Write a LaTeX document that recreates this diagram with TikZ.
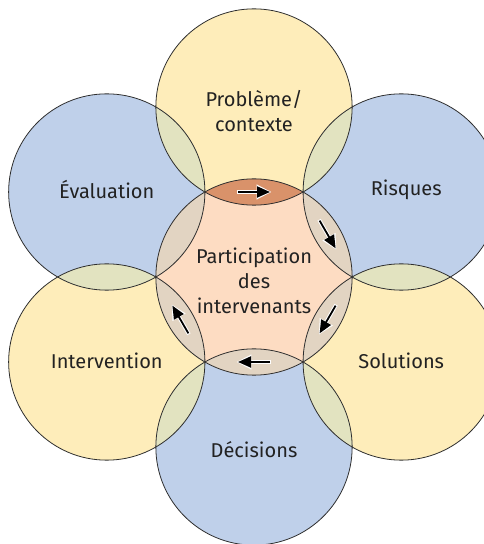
\documentclass[tikz,border=0pt]{standalone}
\usepackage{fontspec}
\setmainfont{Fira Sans}
\usetikzlibrary{calc,arrows.meta}
\definecolor{yellowC}{HTML}{FEEDBA}
\definecolor{blueC}{HTML}{BFD0EA}
\definecolor{greenC}{HTML}{E2E3C0}
\definecolor{peachC}{HTML}{FDDCC2}
\definecolor{tanC}{HTML}{E2D4C2}
\definecolor{rustC}{HTML}{D9926A}
\definecolor{lineC}{HTML}{2E2E2E}
\definecolor{textC}{HTML}{222222}
\begin{document}
\begin{tikzpicture}[x=1pt,y=1pt,
  ring/.style={draw=lineC, line width=0.8pt},
  lbl/.style={text=textC, font=\fontsize{20}{25}\selectfont, align=center, inner sep=0pt},
  halo/.style={white, line width=3.8pt, shorten >=-1.6pt, shorten <=-1pt,
    -{Triangle[length=15pt,width=14pt]}},
  flow/.style={black, line width=1.8pt, -{Triangle[length=13pt,width=11pt]}}]
\useasboundingbox (0,0) rectangle (484,544);
\clip (0,0) rectangle (484,544);
\def\R{170}
\def\r{98.15}
\coordinate (C) at (254,267);
\foreach \a/\n in {90/pb,30/ri,330/so,270/de,210/in,150/ev}
  \coordinate (\n) at ($(C)+(\a:\R)$);

% outer circles
\fill[yellowC] (pb) circle (\r);
\fill[yellowC] (so) circle (\r);
\fill[yellowC] (in) circle (\r);
\fill[blueC] (ri) circle (\r);
\fill[blueC] (de) circle (\r);
\fill[blueC] (ev) circle (\r);

% overlaps of neighbouring outer circles
\foreach \p/\q in {pb/ri,ri/so,so/de,de/in,in/ev,ev/pb}{
  \begin{scope}
    \clip (\p) circle (\r);
    \fill[greenC] (\q) circle (\r);
  \end{scope}
}

% central circle and its lenses
\fill[peachC] (C) circle (\r);
\begin{scope}
  \clip (C) circle (\r);
  \foreach \n in {ri,so,de,in,ev} \fill[tanC] (\n) circle (\r);
  \fill[rustC] (pb) circle (\r);
\end{scope}

% outlines
\foreach \n in {pb,ri,so,de,in,ev,C} \draw[ring] (\n) circle (\r);

% circulation arrows in the lenses
\foreach \a in {90,30,330,270,210}{
  \coordinate (s\a) at ($(C)+(\a:85)+(\a+90:16)$);
  \coordinate (e\a) at ($(C)+(\a:85)+(\a-90:16)$);
  \draw[halo] (s\a) -- (e\a);
  \draw[flow] (s\a) -- (e\a);
}

% labels
\node[lbl] (tC) at ($(C)+(0,-4)$) {Participation\\des\\intervenants};
\node[lbl] (tpb) at ($(pb)+(0,-4)$) {Problème/\\contexte};
\node[lbl] (tri) at ($(ri)+(5,2)$) {Risques};
\node[lbl] (tso) at ($(so)+(0,1)$) {Solutions};
\node[lbl] (tde) at ($(de)+(0,-3)$) {Décisions};
\node[lbl] (tin) at ($(in)+(0,1)$) {Intervention};
\node[lbl] (tev) at ($(ev)+(0,2)$) {Évaluation};
\end{tikzpicture}
\end{document}
